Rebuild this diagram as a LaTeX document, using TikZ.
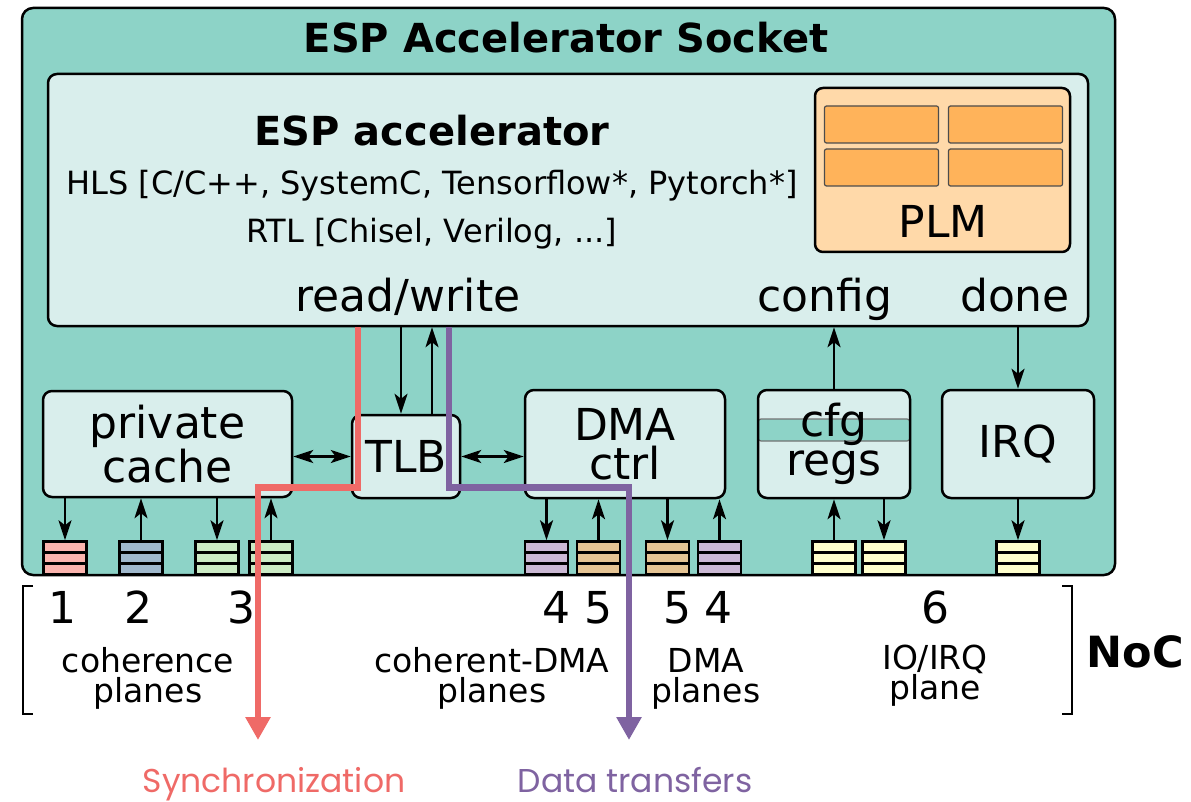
\documentclass[tikz,border=0pt]{standalone}
\usepackage{fontspec}
\setmainfont{DejaVu Sans}
\newfontfamily\legendfont{Poppins}
\usetikzlibrary{arrows.meta}
\definecolor{socketfill}{HTML}{8DD3C7}
\definecolor{blockfill}{HTML}{D9EEEC}
\definecolor{plmfill}{HTML}{FFD9A9}
\definecolor{bankfill}{HTML}{FFB35A}
\definecolor{qpink}{HTML}{FBB4AE}
\definecolor{qblue}{HTML}{A0B8CC}
\definecolor{qgreen}{HTML}{CCEBC5}
\definecolor{qpurple}{HTML}{CBB9D4}
\definecolor{qorange}{HTML}{E5C494}
\definecolor{qyellow}{HTML}{FFFFCC}
\definecolor{syncred}{HTML}{EF6A67}
\definecolor{datapurple}{HTML}{7F63A1}
\begin{document}
\begin{tikzpicture}[x=1pt,y=-1pt,
  box/.style={draw, line width=2.5pt, fill=blockfill, rounded corners=9pt, inner sep=0pt,
    align=center, font=\fontsize{44}{39}\selectfont},
  queue/.style={draw, line width=2.5pt, minimum width=43pt, minimum height=33pt, inner sep=0pt,
    path picture={
      \draw[line width=2.5pt] ([yshift=11pt]path picture bounding box.south west) -- ([yshift=11pt]path picture bounding box.south east);
      \draw[line width=2.5pt] ([yshift=22pt]path picture bounding box.south west) -- ([yshift=22pt]path picture bounding box.south east);}},
  bank/.style={draw=black!70, line width=1.2pt, fill=bankfill, rounded corners=2pt,
    minimum width=114pt, minimum height=37pt, inner sep=0pt},
  tip/.tip={Stealth[length=20pt,width=13pt,inset=5pt]},
  arr/.style={line width=2.5pt, -tip},
  darr/.style={line width=2.5pt, tip-tip},
  flow/.style={line width=6.5pt, -{Triangle[length=23pt,width=24pt]}},
  big/.style={font=\fontsize{44}{39}\selectfont, inner sep=0pt, anchor=base},
  mid/.style={font=\fontsize{32}{29}\selectfont, inner sep=0pt, anchor=base},
  plane/.style={font=\fontsize{33}{30}\selectfont, inner sep=0pt, align=center, anchor=base},
]
\useasboundingbox (0,0) rectangle (1191,802);

% socket and accelerator
\node[draw, line width=2.5pt, fill=socketfill, rounded corners=11pt,
  minimum width=1093pt, minimum height=567pt] (socket) at (568.5,291.5) {};
\node[font=\bfseries\fontsize{40}{40}\selectfont, inner sep=0pt, anchor=base] (title) at (566,53) {ESP Accelerator Socket};
\node[draw, line width=2.5pt, fill=blockfill, rounded corners=9pt,
  minimum width=1040pt, minimum height=252pt] (accel) at (568,200) {};
\node[font=\bfseries\fontsize{40}{40}\selectfont, inner sep=0pt, anchor=base] (accname) at (432,146) {ESP accelerator};
\node[mid] (hls) at (432,195) {HLS [C/C++, SystemC, Tensorflow*, Pytorch*]};
\node[mid] (rtl) at (432,243) {RTL [Chisel, Verilog, ...]};
\node[big] (rw) at (408,312) {read/write};
\node[big] (config) at (825,312) {config};
\node[big] (done) at (1015,312) {done};

% private local memory
\node[draw, line width=2.5pt, fill=plmfill, rounded corners=8pt,
  minimum width=255pt, minimum height=164pt] (plm) at (942.5,170) {};
\node[bank] (b1) at (881.5,124.5) {};
\node[bank] (b2) at (1005.5,124.5) {};
\node[bank] (b3) at (881.5,167.5) {};
\node[bank] (b4) at (1005.5,167.5) {};
\node[big] (plmtxt) at (943,238) {PLM};

% socket blocks
\node[box, minimum width=249pt, minimum height=106pt] (cache) at (167.5,444) {private\\cache};
\node[box, minimum width=108pt, minimum height=83pt] (tlb) at (406,456.5) {TLB};
\node[box, minimum width=200pt, minimum height=108pt] (dma) at (625,444) {DMA\\ctrl};
\node[box, minimum width=152pt, minimum height=108pt,
  path picture={\fill[socketfill, draw=black!55, line width=1.2pt, rounded corners=3pt]
    ([yshift=-29pt]path picture bounding box.north west) rectangle ([yshift=-51pt]path picture bounding box.north east);}]
  (cfg) at (834,444) {cfg\\regs};
\node[box, minimum width=152pt, minimum height=108pt] (irq) at (1018,444) {IRQ};

% NoC queues
\node[queue, fill=qpink]   (q1)  at (65,558) {};
\node[queue, fill=qblue]   (q2)  at (141,558) {};
\node[queue, fill=qgreen]  (q3)  at (217,558) {};
\node[queue, fill=qgreen]  (q4)  at (271,558) {};
\node[queue, fill=qpurple] (q5)  at (546.5,558) {};
\node[queue, fill=qorange] (q6)  at (598.5,558) {};
\node[queue, fill=qorange] (q7)  at (667.5,558) {};
\node[queue, fill=qpurple] (q8)  at (719.5,558) {};
\node[queue, fill=qyellow] (q9)  at (834,558) {};
\node[queue, fill=qyellow] (q10) at (884,558) {};
\node[queue, fill=qyellow] (q11) at (1018,558) {};

% block-to-queue connections
\draw[arr] (q1.north |- cache.south) -- (q1.north);
\draw[arr] (q2.north) -- (q2.north |- cache.south);
\draw[arr] (q3.north |- cache.south) -- (q3.north);
\draw[arr] (q4.north) -- (q4.north |- cache.south);
\draw[arr] (q5.north |- dma.south) -- (q5.north);
\draw[arr] (q6.north) -- (q6.north |- dma.south);
\draw[arr] (q7.north |- dma.south) -- (q7.north);
\draw[arr] (q8.north) -- (q8.north |- dma.south);
\draw[arr] (q9.north) -- (q9.north |- cfg.south);
\draw[arr] (q10.north |- cfg.south) -- (q10.north);
\draw[arr] (irq.south) -- (q11.north);

% accelerator interfaces
\draw[arr] ([xshift=-5pt]tlb.north |- accel.south) -- ([xshift=-5pt]tlb.north);
\draw[arr] ([xshift=26pt]tlb.north) -- ([xshift=26pt]tlb.north |- accel.south);
\draw[darr] (cache.east |- tlb.west) -- (tlb.west);
\draw[darr] (tlb.east) -- (dma.west |- tlb.east);
\draw[arr] (cfg.north) -- (cfg.north |- accel.south);
\draw[arr] (irq.north |- accel.south) -- (irq.north);

% NoC planes legend
\draw[line width=2.5pt] (33,586) -- (23,586) -- (23,714) -- (33,714);
\draw[line width=2.5pt] (1062,586) -- (1072,586) -- (1072,714) -- (1062,714);
\node[big] (n1) at (62,623) {1};
\node[big] (n2) at (138,623) {2};
\node[big] (n3) at (241,623) {3};
\node[big] (n4a) at (556,623) {4};
\node[big] (n5a) at (598,623) {5};
\node[big] (n5b) at (677,623) {5};
\node[big] (n4b) at (718,623) {4};
\node[big] (n6) at (935,623) {6};
\node[plane] (pcoh) at (148,702) {coherence\\planes};
\node[plane] (pcdma) at (492,702) {coherent-DMA\\planes};
\node[plane] (pdma) at (706,702) {DMA\\planes};
\node[plane] (pio) at (935,699) {IO/IRQ\\plane};
\node[font=\bfseries\fontsize{43}{43}\selectfont, inner sep=0pt, anchor=base] (noc) at (1135,667) {NoC};

% synchronization and data paths
\coordinate (syncend) at (258,740);
\coordinate (dataend) at (629,740);
\draw[flow, syncred] ([xshift=-210pt]accel.south) -- ++(0,160) -| (syncend);
\draw[flow, datapurple] ([xshift=-119pt]accel.south) -- ++(0,160) -| (dataend);
\node[font=\legendfont\fontsize{33}{33}\selectfont, text=syncred, inner sep=0pt, anchor=base] (synclbl) at (274,792) {Synchronization};
\node[font=\legendfont\fontsize{33}{33}\selectfont, text=datapurple, inner sep=0pt, anchor=base] (datalbl) at (635,792) {Data transfers};
\end{tikzpicture}
\end{document}
